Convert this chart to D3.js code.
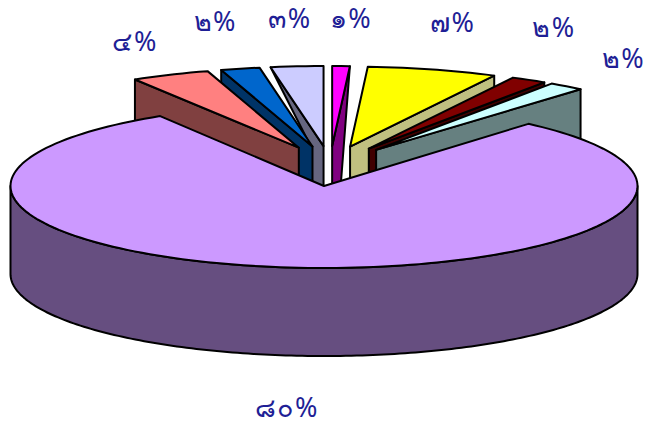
<!DOCTYPE html>
<html><head><meta charset="utf-8">
<style>html,body{margin:0;padding:0;background:#fff}svg{display:block}</style>
<script src="https://cdn.jsdelivr.net/npm/d3@7"></script>
</head><body><svg id="c" width="648" height="428"></svg>
<script>
// data: clockwise from 12 o'clock
const categories = ["a","b","c","d","e","f","g","h"];
const shares = [0.9, 6.7, 1.85, 1.85, 79.9, 4.05, 2.0, 2.7];
const labels = ["๑%","๗%","๒%","๒%","๘๐%","๔%","๒%","๓%"];
// styling / layout
const topColors  = ["#FF00FF","#FFFF00","#800000","#CCFFFF","#CC99FF","#FF8080","#0066CC","#CCCCFF"];
const wallColors = ["#800080","#C0C080","#400000","#668080","#664E80","#804040","#003366","#666680"];
const labelOffsets = [[10,-49],[20,-49],[25,-54],[57,-29],[-12,50],[-35,-35],[-25,-49],[-7,-49]];
const wallTuck = {0:[9,34], 7:[-13,0]};
const mainIndex = 4;
const labelColor = "#1f1f96";
const cx = 324, cy = 186, rx = 313.5, ryMain = 82, ryOut = 80, depth = 88;

const svg = d3.select("#c");
const arcs = d3.pie().sort(null).value(d => d).startAngle(0).endAngle(2*Math.PI)(shares);
const line = d3.line();
const sx = d3.scaleLinear().domain([-1,1]).range([-rx,rx]);
const syOut = d3.scaleLinear().domain([-1,1]).range([-ryOut,ryOut]);
const syMain = d3.scaleLinear().domain([-1,1]).range([-ryMain,ryMain]);

function apex(a,i){
  if(i===mainIndex) return [cx,cy];
  const m=(a.startAngle+a.endAngle)/2, c=Math.cos(m);
  return [cx+6+76*Math.sin(m), cy-(21+19*c)];
}
function rimPts(a,i){
  const [ax,ay]=apex(a,i), sy=i===mainIndex?syMain:syOut;
  const n=Math.max(2,Math.ceil((a.endAngle-a.startAngle)/0.03));
  return d3.range(n+1).map(k=>{
    const t=a.startAngle+(a.endAngle-a.startAngle)*k/n;
    return [ax+sx(Math.sin(t)), ay-sy(Math.cos(t))];
  });
}
function draw(d,fill){
  svg.append("path").attr("d",d).attr("fill",fill).attr("stroke","#000")
     .attr("stroke-width",2).attr("stroke-linejoin","round");
}
const outer = arcs.map((a,i)=>({a,i})).filter(o=>o.i!==mainIndex)
  .sort((p,q)=>Math.abs(Math.sin((p.a.startAngle+p.a.endAngle)/2))-Math.abs(Math.sin((q.a.startAngle+q.a.endAngle)/2)));

outer.forEach(({a,i})=>{
  const A=apex(a,i), rim=rimPts(a,i);
  const m=(a.startAngle+a.endAngle)/2;
  const R=Math.sin(m)>0?rim[rim.length-1]:rim[0];
  const tuck=wallTuck[i];
  const wall=tuck
    ? [R,A,[A[0],A[1]+depth],[A[0]+tuck[0],A[1]+depth],[A[0]+tuck[0],A[1]+tuck[1]]]
    : [R,A,[A[0],A[1]+depth],[R[0],R[1]+depth]];
  draw(line(wall)+"Z",wallColors[i]);
  draw(line([A,...rim])+"Z",topColors[i]);
});

// main slice: outer wall then top
const mainArc=arcs[mainIndex], mainRim=rimPts(mainArc,mainIndex);
const lowest=d3.range(0,181).map(k=>{const t=Math.PI/2+Math.PI*k/180;return [cx+sx(Math.sin(t)),cy-syMain(Math.cos(t))];});
draw(line([...lowest,...lowest.slice().reverse().map(p=>[p[0],p[1]+depth])])+"Z",wallColors[mainIndex]);
draw(line([[cx,cy],...mainRim])+"Z",topColors[mainIndex]);

// labels
arcs.forEach((a,i)=>{
  const m=(a.startAngle+a.endAngle)/2, A=apex(a,i), sy=i===mainIndex?syMain:syOut;
  const x=A[0]+sx(Math.sin(m)), y=A[1]-sy(Math.cos(m))+(i===mainIndex?depth:0);
  svg.append("text").attr("x",x+labelOffsets[i][0]).attr("y",y+labelOffsets[i][1]+11)
     .attr("text-anchor","middle").attr("letter-spacing",1.5)
     .attr("font-family","'Noto Sans','DejaVu Sans',sans-serif").attr("font-size",27)
     .attr("fill",labelColor).text(labels[i]);
});
</script></body></html>
